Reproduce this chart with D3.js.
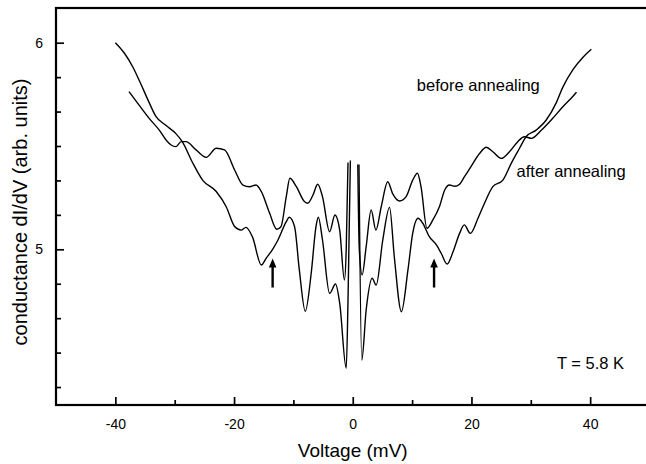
<!DOCTYPE html>
<html>
<head>
<meta charset="utf-8">
<script src="https://cdn.jsdelivr.net/npm/d3@7"></script>
<style>
  body { margin: 0; background: #fff; }
  svg { display: block; }
  text { font-family: "Liberation Sans", Arial, Helvetica, sans-serif; fill: #000; }
</style>
</head>
<body>
<svg id="chart" width="646" height="464"></svg>
<script>
// Tunnelling conductance spectra, dI/dV vs bias voltage (T = 5.8 K).
// Curve A: trace ending high at ±40 mV; curve B: trace ending at ±37.7 mV.
// null marks the zero-bias gap between the two central spikes.
const voltageA = [-40.0, -38.5, -37.1, -35.7, -34.3, -33.2, -31.5, -29.8, -28.7, -27.0, -25.3, -23.0, -21.3, -19.9,
  -18.8, -18.0, -16.9, -15.4, -14.6, -13.5, -12.6, -11.2, -10.7, -9.8, -9.0, -8.0, -7.0, -6.2, -5.8, -5.1, -3.9,
  -2.9, -2.2, -1.1, -0.8, -0.4, 0.3, 1.05, 1.52, 2.26, 3.27, 3.95, 5.06, 6.2, 7.0, 8.2, 9.3, 10.1, 11.0, 11.8,
  12.9, 14.1, 14.9, 15.9, 16.9, 18.0, 18.8, 19.8, 21.1, 22.2, 23.6, 25.3, 26.7, 28.1, 29.2, 30.9, 32.6, 34.3,
  35.4, 37.1, 38.8, 40.2];
const conductanceA = [6.00, 5.95, 5.885, 5.80, 5.71, 5.645, 5.60, 5.56, 5.52, 5.42, 5.335, 5.28, 5.205, 5.11,
  5.093, 5.106, 5.06, 4.924, 4.956, 5.00, 5.045, 5.134, 5.155, 5.109, 4.90, 4.70, 4.884, 5.109, 5.155, 5.045, 4.787,
  4.832, 4.739, 4.424, 4.75, 5.43, null, 5.41, 4.464, 4.706, 4.860, 4.827, 5.045, 5.203, 4.964, 4.698, 4.90, 5.077,
  5.150, 5.126, 5.061, 5.021, 4.981, 4.929, 4.988, 5.077, 5.118, 5.077, 5.150, 5.223, 5.303, 5.335, 5.416, 5.489,
  5.545, 5.577, 5.626, 5.71, 5.785, 5.87, 5.93, 5.968];

const voltageB = [-37.7, -36.0, -34.3, -32.6, -31.2, -30.6, -29.8, -28.9, -28.1, -26.4, -24.7, -23.0, -21.6, -19.9,
  -18.5, -17.4, -16.3, -15.4, -14.0, -12.8, -12.1, -11.2, -10.6, -9.5, -8.1, -7.6, -6.7, -5.9, -5.1, -3.9, -3.0,
  -2.2, -1.4, -1.1, -0.8, 0.0, 0.85, 1.1, 1.58, 2.26, 3.1, 3.9, 4.8, 5.9, 6.7, 7.9, 9.0, 10.1, 10.9, 11.5, 12.5,
  13.5, 14.6, 15.5, 16.3, 17.2, 18.0, 18.8, 19.7, 21.4, 22.5, 23.6, 25.0, 26.4, 27.8, 28.9, 30.1, 31.8, 33.7,
  35.4, 36.8, 37.7];
const conductanceB = [5.763, 5.698, 5.634, 5.577, 5.521, 5.505, 5.497, 5.521, 5.521, 5.481, 5.445, 5.489, 5.481,
  5.384, 5.311, 5.303, 5.311, 5.279, 5.174, 5.097, 5.109, 5.255, 5.344, 5.303, 5.230, 5.223, 5.263, 5.315, 5.255,
  5.085, 5.166, 5.093, 4.851, 5.0, 5.42, null, 5.41, 5.0, 4.876, 5.013, 5.190, 5.093, 5.206, 5.327, 5.271, 5.234,
  5.255, 5.335, 5.368, 5.303, 5.102, 5.142, 5.206, 5.287, 5.311, 5.305, 5.315, 5.35, 5.39, 5.465, 5.494, 5.472,
  5.440, 5.472, 5.521, 5.545, 5.537, 5.577, 5.634, 5.690, 5.731, 5.760];

// Axis ticks and labels
const xTickValues = [-40, -20, 0, 20, 40];
const xTickLabels = ["-40", "-20", "0", "20", "40"];
const xMinorTickValues = [-30, -10, 10, 30];
const yTickValues = [5, 6];
const yTickLabels = ["5", "6"];
const yMinorTickValues = [4 + 2 / 6, 4 + 3 / 6, 4 + 4 / 6, 4 + 5 / 6, 5 + 1 / 6, 5 + 2 / 6, 5 + 3 / 6, 5 + 4 / 6, 5 + 5 / 6];

// Annotations
const curveLabels = [
  { text: "before annealing", v: 10.8, g: 5.765 },
  { text: "after annealing", v: 27.6, g: 5.35 },
  { text: "T = 5.8 K", v: 34.4, g: 4.42 }
];
const arrowVoltages = [-13.5, 13.7];
const arrowTail = 4.815, arrowTip = 4.955;

const xLabel = "Voltage (mV)";
const yLabel = "conductance dI/dV (arb. units)";

const svg = d3.select("#chart");
const frame = { left: 56, right: 649.5, top: 8, bottom: 405 };

const x = d3.scaleLinear().domain([-50, 50]).range([frame.left, frame.right]);
// 6 sits at 42.7px and 5 at 249.3px
const y = d3.scaleLinear()
  .domain([5 - (frame.bottom - 249.3) / 206.6, 5 + (249.3 - frame.top) / 206.6])
  .range([frame.bottom, frame.top]);

// Traces
const line = d3.line()
  .defined(d => d[1] !== null)
  .x(d => x(d[0]))
  .y(d => y(d[1]))
  .curve(d3.curveMonotoneX);

const seriesA = voltageA.map((v, i) => [v, conductanceA[i]]);
const seriesB = voltageB.map((v, i) => [v, conductanceB[i]]);

const plot = svg.append("g");
[seriesA, seriesB].forEach(s => {
  plot.append("path")
    .datum(s)
    .attr("d", line)
    .attr("fill", "none")
    .attr("stroke", "#000")
    .attr("stroke-width", 1.4)
    .attr("stroke-linejoin", "round");
});

// Axes: ticks point inward
const xAxis = d3.axisBottom(x).tickValues(xTickValues).tickSizeInner(-8).tickSizeOuter(0).tickPadding(14)
  .tickFormat((d, i) => xTickLabels[i]);
const xAxisMinor = d3.axisBottom(x).tickValues(xMinorTickValues).tickSizeInner(-5).tickSizeOuter(0).tickFormat("");
const yAxis = d3.axisLeft(y).tickValues(yTickValues).tickSizeInner(-8).tickSizeOuter(0).tickPadding(13)
  .tickFormat((d, i) => yTickLabels[i]);
const yAxisMinor = d3.axisLeft(y).tickValues(yMinorTickValues).tickSizeInner(-5).tickSizeOuter(0).tickFormat("");

function styleAxis(g) {
  g.select(".domain").remove();
  g.selectAll(".tick line").attr("stroke", "#000").attr("stroke-width", 1.7);
  g.selectAll(".tick text").attr("font-size", 14).attr("font-family", null);
}

svg.append("g").attr("transform", `translate(0,${frame.bottom})`).call(xAxis).call(styleAxis);
svg.append("g").attr("transform", `translate(0,${frame.bottom})`).call(xAxisMinor).call(styleAxis);
svg.append("g").attr("transform", `translate(${frame.left},0)`).call(yAxis).call(styleAxis);
svg.append("g").attr("transform", `translate(${frame.left},0)`).call(yAxisMinor).call(styleAxis);

// Frame
svg.append("rect")
  .attr("x", frame.left).attr("y", frame.top)
  .attr("width", frame.right - frame.left).attr("height", frame.bottom - frame.top)
  .attr("fill", "none").attr("stroke", "#000").attr("stroke-width", 2.2);

// Axis titles
svg.append("text")
  .attr("x", x(0)).attr("y", 457)
  .attr("text-anchor", "middle").attr("font-size", 19)
  .text(xLabel);
svg.append("text")
  .attr("transform", "translate(27,212) rotate(-90)")
  .attr("text-anchor", "middle").attr("font-size", 20)
  .text(yLabel);

// Curve labels
svg.selectAll(".curve-label").data(curveLabels).join("text")
  .attr("class", "curve-label")
  .attr("x", d => x(d.v)).attr("y", d => y(d.g))
  .attr("font-size", 16.5)
  .text(d => d.text);

// Arrows marking the shoulder features
const arrows = svg.append("g");
arrowVoltages.forEach(v => {
  const ax = x(v), y0 = y(arrowTail), y1 = y(arrowTip);
  arrows.append("line")
    .attr("x1", ax).attr("x2", ax).attr("y1", y0).attr("y2", y1 + 7)
    .attr("stroke", "#000").attr("stroke-width", 2.4);
  arrows.append("path")
    .attr("d", `M${ax},${y1} L${ax - 3.8},${y1 + 9} L${ax + 3.8},${y1 + 9} Z`)
    .attr("fill", "#000");
});
</script>
</body>
</html>
